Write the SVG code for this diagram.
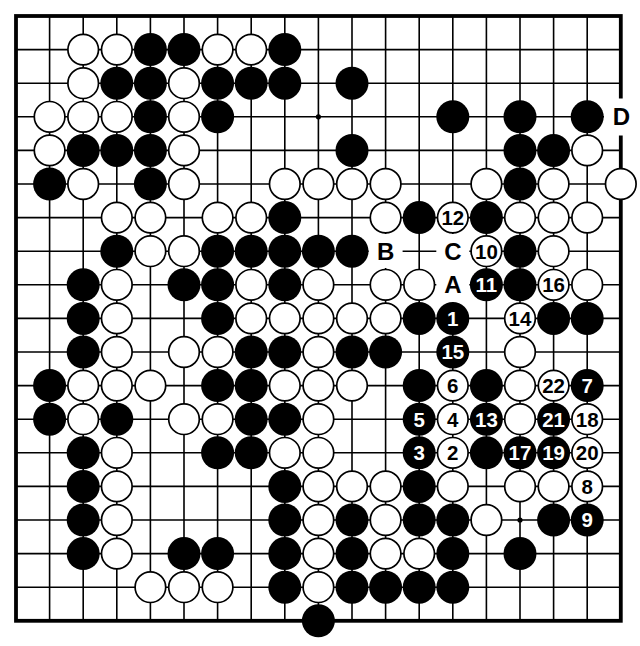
<svg xmlns="http://www.w3.org/2000/svg" xmlns:xlink="http://www.w3.org/1999/xlink" width="640" height="646" viewBox="0 0 640 646">
<style>
.grid{stroke:#000;stroke-width:1.6;fill:none}
.border{stroke:#000;stroke-width:3.8;fill:none}
.bg{fill:#fff}
.num{font-family:"Liberation Sans",Arial,sans-serif;font-weight:bold;font-size:20.5px;text-anchor:middle}
.onb{fill:#fff}
.onw{fill:#000}
.lbl{font-family:"Liberation Sans",Arial,sans-serif;font-weight:bold;font-size:24px;text-anchor:middle;fill:#000}
</style>
<defs>
<circle id="B" cx="0" cy="0" r="16.5" fill="#000"/>
<circle id="W" cx="0" cy="0" r="15.3" fill="#fff" stroke="#000" stroke-width="1.7"/>
</defs>
<rect x="0" y="0" width="640" height="646" fill="#fff"/>
<g id="board">
<path class="grid" d="M49.6 16V620.8M83.2 16V620.8M116.8 16V620.8M150.4 16V620.8M184 16V620.8M217.6 16V620.8M251.2 16V620.8M284.8 16V620.8M318.4 16V620.8M352 16V620.8M385.6 16V620.8M419.2 16V620.8M452.8 16V620.8M486.4 16V620.8M520 16V620.8M553.6 16V620.8M587.2 16V620.8M16 49.6H620.8M16 83.2H620.8M16 116.8H620.8M16 150.4H620.8M16 184H620.8M16 217.6H620.8M16 251.2H620.8M16 284.8H620.8M16 318.4H620.8M16 352H620.8M16 385.6H620.8M16 419.2H620.8M16 452.8H620.8M16 486.4H620.8M16 520H620.8M16 553.6H620.8M16 587.2H620.8"/>
<rect class="border" x="16" y="16" width="604.8" height="604.8"/>
<circle cx="318.4" cy="116.8" r="2.6" fill="#000"/>
<circle cx="520" cy="520" r="2.6" fill="#000"/>
</g>
<g id="labels">
<rect class="bg" x="368.6" y="234" width="34" height="34"/>
<rect class="bg" x="436.3" y="234" width="33" height="34"/>
<rect class="bg" x="436.3" y="268" width="33" height="34"/>
<rect class="bg" x="604" y="98.5" width="36" height="37"/>
<text class="lbl" x="385.6" y="259.8">B</text>
<text class="lbl" x="452.8" y="259.8">C</text>
<text class="lbl" x="452.8" y="293.4">A</text>
<text class="lbl" x="621.5" y="125.4">D</text>
</g>
<g id="stones">
<use href="#W" x="83.2" y="49.6"/><use href="#W" x="116.8" y="49.6"/><use href="#B" x="150.4" y="49.6"/><use href="#B" x="184" y="49.6"/><use href="#W" x="217.6" y="49.6"/><use href="#W" x="251.2" y="49.6"/><use href="#B" x="284.8" y="49.6"/>
<use href="#W" x="83.2" y="83.2"/><use href="#B" x="116.8" y="83.2"/><use href="#B" x="150.4" y="83.2"/><use href="#W" x="184" y="83.2"/><use href="#B" x="217.6" y="83.2"/><use href="#B" x="251.2" y="83.2"/><use href="#B" x="284.8" y="83.2"/><use href="#B" x="352" y="83.2"/>
<use href="#W" x="49.6" y="116.8"/><use href="#W" x="83.2" y="116.8"/><use href="#W" x="116.8" y="116.8"/><use href="#B" x="150.4" y="116.8"/><use href="#W" x="184" y="116.8"/><use href="#B" x="217.6" y="116.8"/><use href="#B" x="452.8" y="116.8"/><use href="#B" x="520" y="116.8"/><use href="#B" x="587.2" y="116.8"/>
<use href="#W" x="49.6" y="150.4"/><use href="#B" x="83.2" y="150.4"/><use href="#B" x="116.8" y="150.4"/><use href="#B" x="150.4" y="150.4"/><use href="#W" x="184" y="150.4"/><use href="#B" x="352" y="150.4"/><use href="#B" x="520" y="150.4"/><use href="#B" x="553.6" y="150.4"/><use href="#W" x="587.2" y="150.4"/>
<use href="#B" x="49.6" y="184"/><use href="#W" x="83.2" y="184"/><use href="#B" x="150.4" y="184"/><use href="#W" x="184" y="184"/><use href="#W" x="284.8" y="184"/><use href="#W" x="318.4" y="184"/><use href="#W" x="352" y="184"/><use href="#W" x="385.6" y="184"/><use href="#W" x="486.4" y="184"/><use href="#B" x="520" y="184"/><use href="#W" x="553.6" y="184"/><use href="#W" x="620.8" y="184"/>
<use href="#W" x="116.8" y="217.6"/><use href="#W" x="150.4" y="217.6"/><use href="#W" x="217.6" y="217.6"/><use href="#W" x="251.2" y="217.6"/><use href="#B" x="284.8" y="217.6"/><use href="#W" x="385.6" y="217.6"/><use href="#B" x="419.2" y="217.6"/><use href="#B" x="486.4" y="217.6"/><use href="#W" x="520" y="217.6"/><use href="#W" x="553.6" y="217.6"/><use href="#W" x="587.2" y="217.6"/>
<use href="#B" x="116.8" y="251.2"/><use href="#W" x="150.4" y="251.2"/><use href="#W" x="184" y="251.2"/><use href="#B" x="217.6" y="251.2"/><use href="#B" x="251.2" y="251.2"/><use href="#B" x="284.8" y="251.2"/><use href="#B" x="318.4" y="251.2"/><use href="#B" x="352" y="251.2"/><use href="#B" x="520" y="251.2"/><use href="#W" x="553.6" y="251.2"/>
<use href="#B" x="83.2" y="284.8"/><use href="#W" x="116.8" y="284.8"/><use href="#B" x="184" y="284.8"/><use href="#B" x="217.6" y="284.8"/><use href="#W" x="251.2" y="284.8"/><use href="#B" x="284.8" y="284.8"/><use href="#W" x="318.4" y="284.8"/><use href="#W" x="385.6" y="284.8"/><use href="#W" x="419.2" y="284.8"/><use href="#B" x="520" y="284.8"/><use href="#W" x="587.2" y="284.8"/>
<use href="#B" x="83.2" y="318.4"/><use href="#W" x="116.8" y="318.4"/><use href="#B" x="217.6" y="318.4"/><use href="#W" x="251.2" y="318.4"/><use href="#W" x="284.8" y="318.4"/><use href="#W" x="318.4" y="318.4"/><use href="#W" x="352" y="318.4"/><use href="#W" x="385.6" y="318.4"/><use href="#B" x="419.2" y="318.4"/><use href="#B" x="553.6" y="318.4"/><use href="#B" x="587.2" y="318.4"/>
<use href="#B" x="83.2" y="352"/><use href="#W" x="116.8" y="352"/><use href="#W" x="184" y="352"/><use href="#W" x="217.6" y="352"/><use href="#B" x="251.2" y="352"/><use href="#B" x="284.8" y="352"/><use href="#W" x="318.4" y="352"/><use href="#B" x="352" y="352"/><use href="#B" x="385.6" y="352"/><use href="#W" x="520" y="352"/>
<use href="#B" x="49.6" y="385.6"/><use href="#W" x="83.2" y="385.6"/><use href="#W" x="116.8" y="385.6"/><use href="#W" x="150.4" y="385.6"/><use href="#B" x="217.6" y="385.6"/><use href="#B" x="251.2" y="385.6"/><use href="#W" x="284.8" y="385.6"/><use href="#W" x="318.4" y="385.6"/><use href="#W" x="352" y="385.6"/><use href="#B" x="419.2" y="385.6"/><use href="#B" x="486.4" y="385.6"/><use href="#W" x="520" y="385.6"/>
<use href="#B" x="49.6" y="419.2"/><use href="#W" x="83.2" y="419.2"/><use href="#B" x="116.8" y="419.2"/><use href="#W" x="184" y="419.2"/><use href="#W" x="217.6" y="419.2"/><use href="#B" x="251.2" y="419.2"/><use href="#B" x="284.8" y="419.2"/><use href="#W" x="318.4" y="419.2"/><use href="#W" x="520" y="419.2"/>
<use href="#B" x="83.2" y="452.8"/><use href="#W" x="116.8" y="452.8"/><use href="#B" x="217.6" y="452.8"/><use href="#B" x="251.2" y="452.8"/><use href="#W" x="284.8" y="452.8"/><use href="#W" x="318.4" y="452.8"/><use href="#B" x="486.4" y="452.8"/>
<use href="#B" x="83.2" y="486.4"/><use href="#W" x="116.8" y="486.4"/><use href="#B" x="284.8" y="486.4"/><use href="#W" x="318.4" y="486.4"/><use href="#W" x="352" y="486.4"/><use href="#W" x="385.6" y="486.4"/><use href="#B" x="419.2" y="486.4"/><use href="#W" x="452.8" y="486.4"/><use href="#W" x="520" y="486.4"/><use href="#W" x="553.6" y="486.4"/>
<use href="#B" x="83.2" y="520"/><use href="#W" x="116.8" y="520"/><use href="#B" x="284.8" y="520"/><use href="#W" x="318.4" y="520"/><use href="#B" x="352" y="520"/><use href="#W" x="385.6" y="520"/><use href="#B" x="419.2" y="520"/><use href="#B" x="452.8" y="520"/><use href="#W" x="486.4" y="520"/><use href="#B" x="553.6" y="520"/>
<use href="#B" x="83.2" y="553.6"/><use href="#W" x="116.8" y="553.6"/><use href="#B" x="184" y="553.6"/><use href="#B" x="217.6" y="553.6"/><use href="#B" x="284.8" y="553.6"/><use href="#W" x="318.4" y="553.6"/><use href="#B" x="352" y="553.6"/><use href="#W" x="385.6" y="553.6"/><use href="#W" x="419.2" y="553.6"/><use href="#B" x="452.8" y="553.6"/><use href="#B" x="520" y="553.6"/>
<use href="#W" x="150.4" y="587.2"/><use href="#W" x="184" y="587.2"/><use href="#W" x="217.6" y="587.2"/><use href="#B" x="284.8" y="587.2"/><use href="#W" x="318.4" y="587.2"/><use href="#B" x="352" y="587.2"/><use href="#B" x="385.6" y="587.2"/><use href="#B" x="419.2" y="587.2"/><use href="#B" x="452.8" y="587.2"/>
<use href="#B" x="318.4" y="620.8"/>
</g>
<g id="moves" class="num">
<g id="m1"><use href="#B" x="452.8" y="318.4"/><text class="onb" x="452.8" y="325.8">1</text></g>
<g id="m2"><use href="#W" x="452.8" y="452.8"/><text class="onw" x="452.8" y="460.2">2</text></g>
<g id="m3"><use href="#B" x="419.2" y="452.8"/><text class="onb" x="419.2" y="460.2">3</text></g>
<g id="m4"><use href="#W" x="452.8" y="419.2"/><text class="onw" x="452.8" y="426.6">4</text></g>
<g id="m5"><use href="#B" x="419.2" y="419.2"/><text class="onb" x="419.2" y="426.6">5</text></g>
<g id="m6"><use href="#W" x="452.8" y="385.6"/><text class="onw" x="452.8" y="393">6</text></g>
<g id="m7"><use href="#B" x="587.2" y="385.6"/><text class="onb" x="587.2" y="393">7</text></g>
<g id="m8"><use href="#W" x="587.2" y="486.4"/><text class="onw" x="587.2" y="493.8">8</text></g>
<g id="m9"><use href="#B" x="587.2" y="520"/><text class="onb" x="587.2" y="527.4">9</text></g>
<g id="m10"><use href="#W" x="486.4" y="251.2"/><text class="onw" x="486.4" y="258.6">10</text></g>
<g id="m11"><use href="#B" x="486.4" y="284.8"/><text class="onb" x="486.4" y="292.2">11</text></g>
<g id="m12"><use href="#W" x="452.8" y="217.6"/><text class="onw" x="452.8" y="225">12</text></g>
<g id="m13"><use href="#B" x="486.4" y="419.2"/><text class="onb" x="486.4" y="426.6">13</text></g>
<g id="m14"><use href="#W" x="520" y="318.4"/><text class="onw" x="520" y="325.8">14</text></g>
<g id="m15"><use href="#B" x="452.8" y="352"/><text class="onb" x="452.8" y="359.4">15</text></g>
<g id="m16"><use href="#W" x="553.6" y="284.8"/><text class="onw" x="553.6" y="292.2">16</text></g>
<g id="m17"><use href="#B" x="520" y="452.8"/><text class="onb" x="520" y="460.2">17</text></g>
<g id="m18"><use href="#W" x="587.2" y="419.2"/><text class="onw" x="587.2" y="426.6">18</text></g>
<g id="m19"><use href="#B" x="553.6" y="452.8"/><text class="onb" x="553.6" y="460.2">19</text></g>
<g id="m20"><use href="#W" x="587.2" y="452.8"/><text class="onw" x="587.2" y="460.2">20</text></g>
<g id="m21"><use href="#B" x="553.6" y="419.2"/><text class="onb" x="553.6" y="426.6">21</text></g>
<g id="m22"><use href="#W" x="553.6" y="385.6"/><text class="onw" x="553.6" y="393">22</text></g>
</g>
</svg>
